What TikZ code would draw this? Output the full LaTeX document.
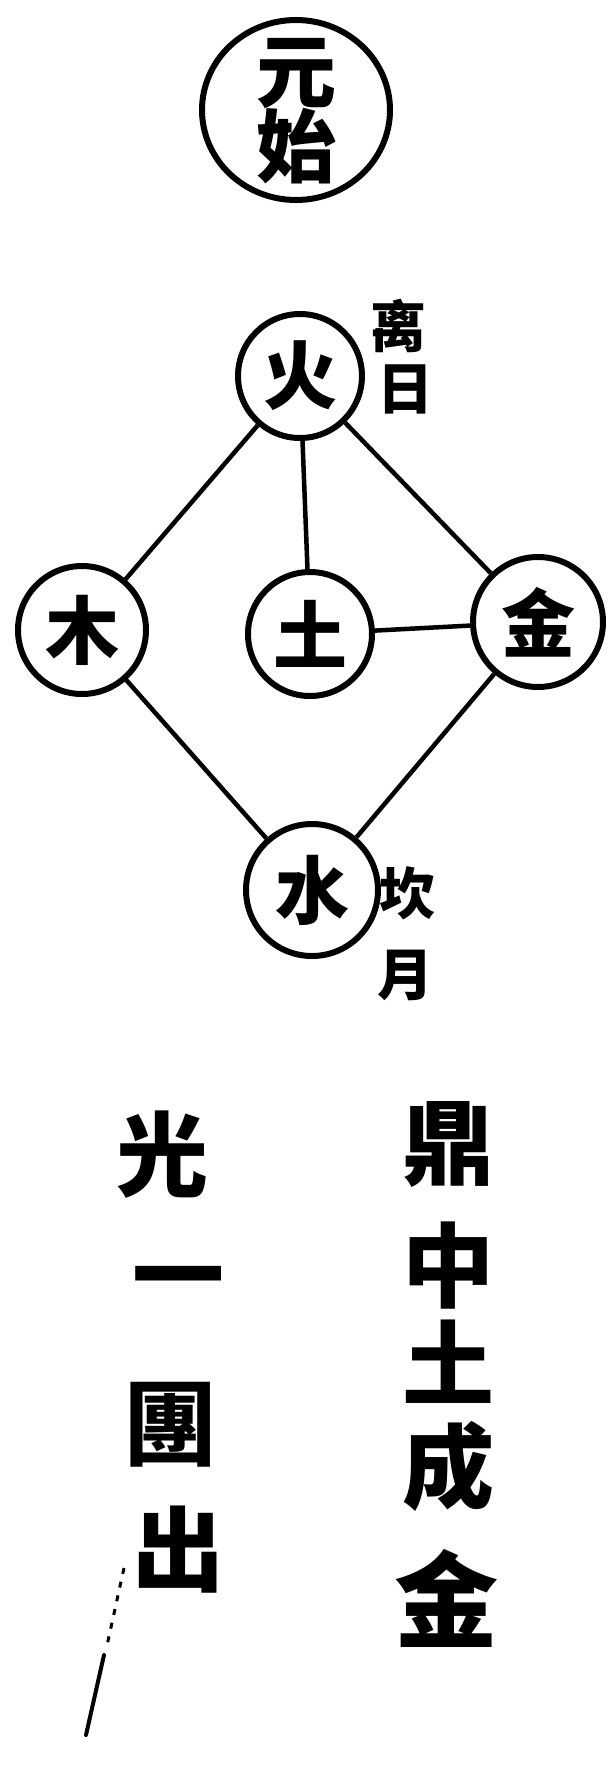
\documentclass[tikz,border=0pt]{standalone}
\usepackage{fontspec}
\usetikzlibrary{shapes.geometric}
\newfontfamily\cjk{Noto Sans CJK TC}
\begin{document}
\begin{tikzpicture}[x=1pt,y=-1pt,
  ring/.style={circle,draw,line width=6pt,minimum size=#1,inner sep=0pt},
  link/.style={line width=4.5pt},
  big/.style={font=\cjk\bfseries\fontsize{74}{74}\selectfont,inner sep=0pt},
  topchar/.style={font=\cjk\bfseries\fontsize{80}{80}\selectfont,inner sep=0pt},
  lab/.style={font=\cjk\bfseries\fontsize{56}{56}\selectfont,inner sep=0pt},
  col/.style={font=\cjk\bfseries\fontsize{92}{92}\selectfont,inner sep=0pt}]
\useasboundingbox (0,0) rectangle (615,1781);
% top circle
\node[ellipse,draw,line width=6pt,minimum width=188pt,minimum height=180pt,inner sep=0pt] (top) at (296,110) {};
\node[topchar] (yuan) at (296,74) {元};
\node[topchar] (shi) at (296,146) {始};
% five phases
\node[ring=124pt,big] (fire) at (300,376) {火};
\node[ring=128pt,big] (wood) at (82,630) {木};
\node[ring=124pt,big] (earth) at (310,634) {土};
\node[ring=130pt,big] (gold) at (538,622) {金};
\node[ring=132pt,big] (water) at (312,890) {水};
% connectors
\draw[link] (fire) -- (wood);
\draw[link] (fire) -- (earth);
\draw[link] (fire) -- (gold);
\draw[link] (earth) -- (gold);
\draw[link] (wood) -- (water);
\draw[link] (gold) -- (water);
% labels
\node[lab] (li) at (398,326) {离};
\node[lab] (ri) at (405,389) {日};
\node[lab] (kan) at (407,893) {坎};
\node[lab] (yue) at (405,975) {月};
% right column
\node[col] (c1) at (448,1145) {鼎};
\node[col] (c2) at (448,1266) {中};
\node[col] (c3) at (448,1362) {土};
\node[col] (c4) at (448,1466) {成};
\node[col,font=\cjk\bfseries\fontsize{104}{104}\selectfont] (c5) at (446,1598) {金};
% left column
\node[col] (d1) at (162,1155) {光};
\node[col] (d2) at (178,1288) {一};
\node[col] (d3) at (170,1425) {團};
\node[col] (d4) at (178,1550) {出};
% stray brush mark
\draw[line width=3pt,dash pattern=on 6pt off 8pt] (124,1568) -- (106,1650);
\draw[line width=4pt,line cap=round] (104,1655) -- (86,1735);
\end{tikzpicture}
\end{document}
